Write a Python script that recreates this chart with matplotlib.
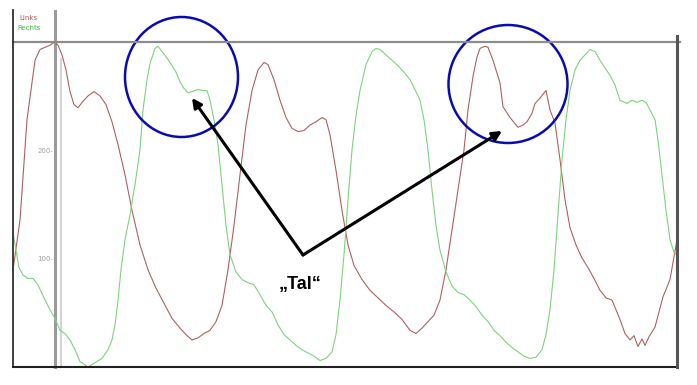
""" Links / Rechts Verlauf mit markiertem "Tal" """
import matplotlib
matplotlib.use("Agg")
import matplotlib.pyplot as plt
from matplotlib.patches import Ellipse

# sample position and value
links_t = [0, 7, 14, 22, 27, 32, 37, 42, 45, 49, 53, 57, 61, 65, 69, 75, 81, 87, 93, 99,
           105, 112, 119, 127, 135, 143, 151, 159, 167, 173, 179, 185, 191, 197, 203, 209,
           215, 221, 227, 233, 239, 245, 251, 255, 261, 267, 273, 279, 285, 291, 297, 303,
           309, 313, 317, 323, 329, 335, 341, 349, 357, 365, 373, 381, 389, 397, 403, 409,
           415, 421, 427, 433, 439, 445, 451, 455, 460, 464, 467, 472, 475, 480, 487, 490,
           497, 505, 510, 514, 519, 522, 527, 533, 537, 542, 547, 552, 557, 563, 569, 575,
           581, 587, 593, 599, 607, 612, 617, 621, 625, 629, 632, 636, 642, 650, 657, 664]
links_v = [90, 136, 229, 284, 294, 296, 298, 301, 298, 289, 275, 255, 243, 240, 245, 251, 255, 251, 243, 227,
           206, 178, 145, 113, 90, 73, 59, 45, 36, 30, 25, 27, 31, 34, 42, 57,
           90, 131, 178, 224, 256, 275, 282, 280, 266, 247, 231, 221, 218, 219, 224, 227,
           231, 229, 215, 182, 145, 113, 94, 81, 71, 64, 57, 51, 44, 34, 31, 36,
           42, 48, 62, 90, 127, 164, 201, 238, 269, 287, 295, 297, 296, 284, 263, 241,
           231, 222, 224, 227, 235, 244, 249, 256, 238, 226, 192, 155, 129, 113, 101, 92,
           82, 71, 64, 62, 44, 31, 25, 29, 19, 26, 20, 28, 37, 65, 81, 118]

rechts_t = [0, 3, 6, 10, 15, 20, 25, 31, 37, 42, 47, 52, 57, 62, 67, 75, 82, 89, 95, 99,
            102, 105, 108, 112, 117, 122, 127, 130, 134, 137, 142, 145, 149, 154, 159, 163,
            167, 171, 175, 179, 185, 190, 194, 197, 201, 205, 209, 213, 217, 223, 229, 235,
            241, 247, 253, 259, 265, 271, 277, 283, 289, 295, 301, 307, 313, 319, 323, 327,
            331, 335, 339, 343, 347, 353, 359, 363, 367, 373, 379, 385, 391, 397, 403, 407,
            411, 415, 419, 423, 427, 433, 439, 445, 451, 457, 463, 469, 475, 481, 487, 493,
            499, 505, 511, 517, 523, 529, 533, 537, 541, 545, 549, 553, 557, 562, 567, 572,
            577, 582, 587, 592, 597, 602, 607, 614, 619, 624, 629, 633, 637, 642, 645, 649,
            653, 657, 661, 664]
rechts_v = [124, 108, 92, 85, 82, 82, 76, 64, 53, 45, 34, 31, 25, 16, 5, 0, 4, 8, 16, 25,
            39, 62, 90, 118, 141, 169, 201, 238, 266, 281, 295, 297, 292, 286, 279, 273,
            264, 258, 254, 255, 257, 256, 256, 247, 229, 206, 169, 131, 104, 88, 81, 78,
            76, 67, 57, 51, 39, 30, 25, 20, 16, 13, 10, 6, 8, 14, 30, 62,
            104, 155, 201, 233, 256, 280, 292, 295, 294, 289, 284, 279, 273, 266, 255, 247,
            229, 201, 164, 131, 108, 88, 75, 69, 67, 62, 56, 48, 42, 34, 29, 23,
            18, 14, 10, 8, 9, 16, 30, 53, 90, 141, 192, 229, 256, 275, 284, 289,
            294, 292, 284, 277, 270, 261, 247, 244, 247, 245, 247, 245, 238, 229, 210, 178,
            145, 118, 106, 104]

y_ticks = [100, 200]

W, H = 697, 385
fig = plt.figure(figsize=(W / 100, H / 100), dpi=100)
fig.patch.set_facecolor("white")

# plot area: pixel x 13..677, pixel y 43..367
ax = fig.add_axes([13 / W, (H - 367) / H, 664 / W, 324 / H])
ax.set_xlim(0, 664)
ax.set_ylim(0, 300)
ax.axis("off")

ax.plot(links_t, links_v, color="#b06060", lw=0.8, clip_on=False, zorder=3)
ax.plot(rechts_t, rechts_v, color="#7fd27f", lw=0.8, clip_on=False, zorder=3)

# cursor lines
ax.axvline(42, color="#9a9a9a", lw=2.2, ymin=0, ymax=1.1, clip_on=False, zorder=2)
ax.axvline(48, color="#d4d4d4", lw=1.6, ymin=0, ymax=0.95, clip_on=False, zorder=2)

for v in y_ticks:
    ax.text(40, v, "%d-" % v, color="#a0a0a0", fontsize=5, ha="right", va="center")

# frame drawn in pixel coordinates
deco = fig.add_axes([0, 0, 1, 1])
deco.set_xlim(0, W)
deco.set_ylim(H, 0)
deco.axis("off")
deco.patch.set_alpha(0)

deco.plot([13, 680], [42, 42], color="#8c8c8c", lw=1.6)
deco.plot([13, 13], [10, 367], color="#303030", lw=1.3)
deco.plot([13, 677], [367, 367], color="#202020", lw=1.5)
deco.plot([677, 677], [36, 367], color="#555555", lw=2.2)

deco.text(19, 18, "Links", color="#c05050", fontsize=5, va="center")
deco.text(17, 28, "Rechts", color="#40c040", fontsize=5, va="center")

deco.add_patch(Ellipse((181.5, 77), 113, 120, fill=False, ec="#0a0ab4", lw=1.8))
deco.add_patch(Ellipse((508, 84), 119, 118, fill=False, ec="#0a0ab4", lw=1.8))

arrow = dict(arrowstyle="-|>,head_length=0.55,head_width=0.28", color="black", lw=2.2,
             shrinkA=0, shrinkB=0)
deco.annotate("", xy=(192, 98), xytext=(303, 255), arrowprops=arrow)
deco.annotate("", xy=(502, 131), xytext=(303, 255), arrowprops=arrow)

deco.text(300, 285, "\u201eTal\u201c", fontsize=13, fontweight="bold",
          family="Liberation Sans", ha="center", va="center")

fig.savefig("out.png", dpi=100)
